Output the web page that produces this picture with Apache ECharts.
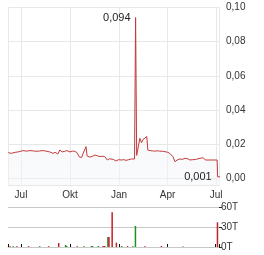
<!DOCTYPE html>
<html>
<head>
<meta charset="utf-8">
<script src="https://cdn.jsdelivr.net/npm/echarts@6/dist/echarts.min.js"></script>
<style>
html,body{margin:0;padding:0;background:#fff;}
#c{width:264px;height:255px;}
</style>
</head>
<body>
<div id="c"></div>
<script>
var priceDates = ['2023-06-07','2023-06-10','2023-06-13','2023-06-16','2023-06-20','2023-06-25','2023-06-29','2023-07-05','2023-07-11','2023-07-18','2023-07-24','2023-07-31','2023-08-05','2023-08-11','2023-08-17','2023-08-24','2023-08-30','2023-09-03','2023-09-06','2023-09-08','2023-09-12','2023-09-16','2023-09-20','2023-09-25','2023-10-01','2023-10-06','2023-10-10','2023-10-14','2023-10-17','2023-10-19','2023-10-23','2023-10-25','2023-10-28','2023-10-31','2023-11-02','2023-11-07','2023-11-12','2023-11-17','2023-11-22','2023-11-26','2023-12-01','2023-12-05','2023-12-08','2023-12-10','2023-12-14','2023-12-17','2023-12-21','2023-12-26','2023-12-31','2024-01-05','2024-01-10','2024-01-14','2024-01-19','2024-01-24','2024-01-30','2024-01-31','2024-02-01','2024-02-03','2024-02-05','2024-02-09','2024-02-12','2024-02-15','2024-02-18','2024-02-22','2024-02-24','2024-02-28','2024-03-04','2024-03-08','2024-03-13','2024-03-17','2024-03-22','2024-03-27','2024-04-01','2024-04-05','2024-04-11','2024-04-15','2024-04-19','2024-04-24','2024-04-29','2024-05-04','2024-05-09','2024-05-13','2024-05-18','2024-05-23','2024-05-28','2024-06-01','2024-06-07','2024-06-11','2024-06-18','2024-06-24','2024-06-29','2024-07-03','2024-07-04','2024-07-09'];
var priceValues = [0.0151,0.0151,0.0147,0.0147,0.0153,0.0155,0.0158,0.0163,0.0160,0.0163,0.0161,0.0159,0.0161,0.0163,0.0160,0.0155,0.0147,0.0153,0.0155,0.0143,0.0167,0.0155,0.0158,0.0163,0.0155,0.0160,0.0159,0.0151,0.0150,0.0124,0.0124,0.0143,0.0150,0.0186,0.0132,0.0125,0.0130,0.0137,0.0132,0.0128,0.0130,0.0128,0.0122,0.0108,0.0115,0.0118,0.0112,0.0102,0.0110,0.0108,0.0110,0.0106,0.0110,0.0114,0.0114,0.0125,0.0940,0.0135,0.0125,0.0235,0.0209,0.0228,0.0235,0.0245,0.0166,0.0163,0.0161,0.0160,0.0162,0.0160,0.0159,0.0157,0.0153,0.0147,0.0128,0.0098,0.0108,0.0114,0.0112,0.0118,0.0115,0.0108,0.0110,0.0111,0.0115,0.0118,0.0121,0.0108,0.0108,0.0108,0.0108,0.0108,0.0010,0.0010];

var volDates = ['2023-06-09','2023-06-15','2023-06-22','2023-07-14','2023-08-04','2023-08-21','2023-09-09','2023-09-22','2023-09-24','2023-10-14','2023-10-27','2023-11-10','2023-11-12','2023-11-23','2023-12-02','2023-12-05','2023-12-11','2023-12-13','2023-12-19','2023-12-27','2024-01-06','2024-01-17','2024-01-27','2024-02-01','2024-02-19','2024-03-21','2024-05-01','2024-07-05'];
var volValues = [1200,1200,1200,1200,1200,1200,6000,3000,1500,1200,1200,1500,1500,1500,1500,1500,15000,15000,52000,6500,1500,1200,1200,31500,1200,1500,600,37000];
var volDir = ['d','u','d','d','u','d','d','u','u','d','u','u','u','u','d','d','u','d','d','d','u','d','u','u','d','d','u','d'];

var monthNames = ['Jan','Feb','Mär','Apr','Mai','Jun','Jul','Aug','Sep','Okt','Nov','Dez'];

var LINE = '#c23b3b';
var UP = '#1f8f1f';
var DOWN = '#c0202a';
var FONT = 'Liberation Sans, Arial, sans-serif';
var GRID_C = '#e8e8e8';

var peakIdx = priceValues.indexOf(Math.max.apply(null, priceValues));
var dropIdx = priceValues.length - 2;
function fmt(v, d) { return v.toFixed(d).replace('.', ','); }

var priceData = priceDates.map(function (d, i) { return [d, priceValues[i]]; });
var volData = volDates.map(function (d, i) {
  return { value: [d, volValues[i]], itemStyle: { color: volDir[i] === 'u' ? UP : DOWN } };
});

var DAY = 86400000;
var xMin = new Date(2023, 5, 6, 14).getTime();
var xMaxMain = new Date(2024, 6, 6, 12).getTime();
var xMaxVol = new Date(2024, 6, 6, 12).getTime();

var chart = echarts.init(document.getElementById('c'), null, { renderer: 'canvas' });
chart.setOption({
  animation: false,
  backgroundColor: '#fff',
  textStyle: { fontFamily: FONT },
  grid: [
    { left: 8, right: 45, top: 7.3, bottom: 70 },
    { left: 8, right: 45, top: 207, bottom: 8 }
  ],
  xAxis: [
    {
      type: 'time', gridIndex: 0, min: xMin, max: xMaxMain,
      minInterval: 95 * DAY, maxInterval: 95 * DAY,
      axisLine: { show: true, lineStyle: { color: '#e2e2e2', width: 1 } },
      axisTick: { show: false },
      splitLine: { show: true, lineStyle: { color: GRID_C, width: 1 } },
      axisLabel: {
        color: '#333', fontSize: 10, margin: 5, fontFamily: FONT,
        formatter: function (v) { return monthNames[new Date(v).getMonth()]; }
      }
    },
    {
      type: 'time', gridIndex: 1, min: xMin, max: xMaxVol, position: 'top',
      minInterval: 95 * DAY, maxInterval: 95 * DAY,
      axisLine: { show: true, lineStyle: { color: '#c8c8c8', width: 1 } },
      axisTick: { show: true, length: 3, inside: false, lineStyle: { color: '#111', width: 1 } },
      splitLine: { show: false },
      axisLabel: { show: false }
    }
  ],
  yAxis: [
    {
      type: 'value', gridIndex: 0, position: 'right', min: -0.0038, max: 0.10,
      splitNumber: 5,
      axisLine: { show: true, lineStyle: { color: GRID_C, width: 1 } }, axisTick: { show: false },
      splitLine: { show: true, lineStyle: { color: GRID_C, width: 1 } },
      axisLabel: {
        color: '#333', fontSize: 10, margin: 7, fontFamily: FONT, showMinLabel: false,
        formatter: function (v) { return v < -1e-9 ? '' : fmt(v, 2); }
      }
    },
    {
      type: 'value', gridIndex: 1, position: 'right', min: 0, max: 60000, interval: 30000,
      axisLine: { show: false },
      axisTick: { show: true, length: 3, lineStyle: { color: '#222', width: 1 } },
      splitLine: { show: true, lineStyle: { color: '#c8c8c8', width: 1 } },
      axisLabel: {
        color: '#333', fontSize: 10, margin: 2, fontFamily: FONT,
        formatter: function (v) { return (v / 1000) + 'T'; }
      }
    },
    {
      type: 'value', gridIndex: 0, position: 'left', min: -0.0038, max: 0.10,
      axisLine: { show: true, lineStyle: { color: GRID_C, width: 1 } },
      axisTick: { show: false }, axisLabel: { show: false }, splitLine: { show: false }
    }
  ],
  series: [
    {
      type: 'line', xAxisIndex: 0, yAxisIndex: 0, data: priceData,
      showSymbol: false, symbol: 'none', clip: false,
      lineStyle: { color: LINE, width: 1 },
      itemStyle: { color: LINE },
      areaStyle: {
        origin: 'start',
        color: new echarts.graphic.LinearGradient(0, 0, 0, 1, [
          { offset: 0, color: 'rgba(226,230,236,0.75)' },
          { offset: 1, color: 'rgba(246,247,249,0.75)' }
        ])
      },
      markPoint: {
        symbol: 'circle', symbolSize: 0, silent: true,
        label: { show: true, color: '#222', fontSize: 11, fontFamily: FONT, position: 'left' },
        data: [
          { coord: [priceDates[peakIdx], priceValues[peakIdx]], value: priceValues[peakIdx],
            label: { formatter: fmt(priceValues[peakIdx], 3), distance: 5 } },
          { coord: [priceDates[dropIdx], priceValues[dropIdx]], value: priceValues[dropIdx],
            label: { formatter: fmt(priceValues[dropIdx], 3), distance: 6 } }
        ]
      },
      z: 3
    },
    {
      type: 'bar', xAxisIndex: 1, yAxisIndex: 1, data: volData,
      barWidth: 1.5, clip: false
    }
  ]
});
</script>
</body>
</html>
